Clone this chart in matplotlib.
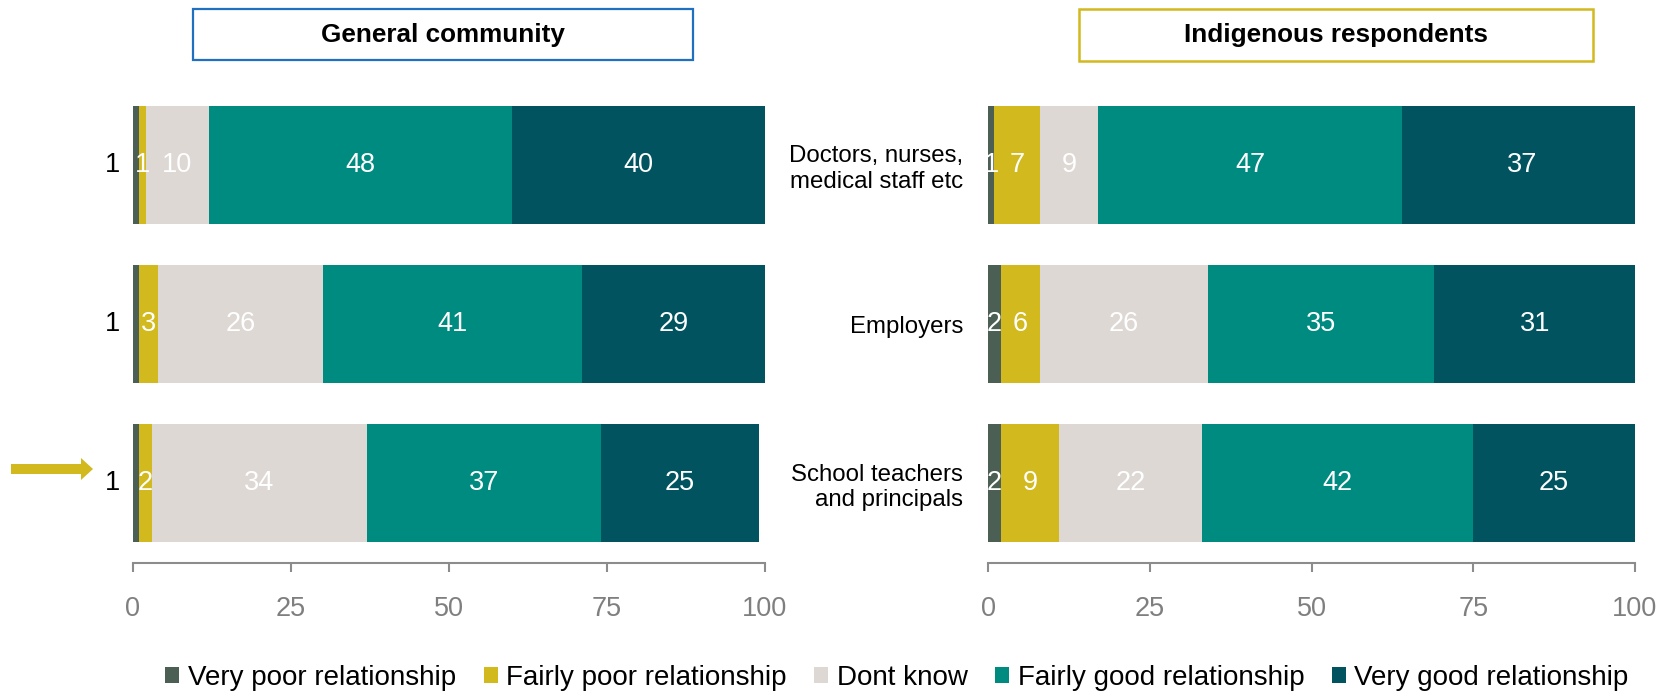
import matplotlib
matplotlib.use("Agg")
import matplotlib.pyplot as plt
from matplotlib.patches import Rectangle, FancyArrow

plt.rcParams['font.family'] = ['Liberation Sans', 'DejaVu Sans']

# ---- data -------------------------------------------------------------
categories = ["Doctors, nurses,\nmedical staff etc", "Employers",
              "School teachers\nand principals"]
series = ["Very poor relationship", "Fairly poor relationship", "Dont know",
          "Fairly good relationship", "Very good relationship"]
colors = ["#4B5F55", "#D2B91E", "#DDD8D4", "#008B80", "#00535F"]

general_very_poor = [1, 1, 1]
general_fairly_poor = [1, 3, 2]
general_dont_know = [10, 26, 34]
general_fairly_good = [48, 41, 37]
general_very_good = [40, 29, 25]

indig_very_poor = [1, 2, 2]
indig_fairly_poor = [7, 6, 9]
indig_dont_know = [9, 26, 22]
indig_fairly_good = [47, 35, 42]
indig_very_good = [37, 31, 25]

x_ticks = [0, 25, 50, 75, 100]

general = [general_very_poor, general_fairly_poor, general_dont_know,
           general_fairly_good, general_very_good]
indigenous = [indig_very_poor, indig_fairly_poor, indig_dont_know,
              indig_fairly_good, indig_very_good]

# ---- figure -----------------------------------------------------------
W, H = 1670, 691
fig = plt.figure(figsize=(W / 100, H / 100), dpi=100)

ax_bottom = 1 - 563 / H
ax_height = 478 / H
ax_left = fig.add_axes([133 / W, ax_bottom, 632 / W, ax_height])
ax_right = fig.add_axes([988 / W, ax_bottom, 647 / W, ax_height])

AXIS_GREY = "#8C8C8C"
BAR_H = 0.742
VAL_FS = 19.5


def draw_panel(ax, data, outside_first):
    ypos = list(range(len(categories)))
    lefts = [0] * len(categories)
    for si, vals in enumerate(data):
        ax.barh(ypos, vals, left=lefts, height=BAR_H, color=colors[si],
                linewidth=0)
        for yi, v in enumerate(vals):
            if si == 0 and outside_first:
                ax.annotate(str(v), xy=(0, yi), xytext=(-13, 0),
                            textcoords="offset pixels", ha="right",
                            va="center", fontsize=VAL_FS, color="black")
            else:
                ax.text(lefts[yi] + v / 2, yi, str(v), ha="center",
                        va="center", fontsize=VAL_FS, color="white",
                        clip_on=False)
        lefts = [l + v for l, v in zip(lefts, vals)]

    ax.set_xlim(0, 100)
    ax.set_ylim(2.5, -0.5)
    ax.set_xticks(x_ticks)
    ax.set_xticklabels([str(t) for t in x_ticks])
    for s in ("top", "right", "left"):
        ax.spines[s].set_visible(False)
    ax.spines["bottom"].set_color(AXIS_GREY)
    ax.spines["bottom"].set_linewidth(1.5)
    ax.tick_params(axis="x", direction="out", length=6.5, width=1.5,
                   color=AXIS_GREY, labelcolor="#7F7F7F", labelsize=19.5,
                   pad=17)
    ax.set_facecolor("none")


draw_panel(ax_left, general, outside_first=True)
draw_panel(ax_right, indigenous, outside_first=False)

ax_left.set_yticks([])
ax_right.set_yticks(range(len(categories)))
ax_right.set_yticklabels(categories, fontsize=17.3, linespacing=1.2)
ax_right.tick_params(axis="y", length=0, pad=18)

# ---- overlay: panel headers and pointer arrow -------------------------
ov = fig.add_axes([0, 0, 1, 1], zorder=5)
ov.set_xlim(0, W)
ov.set_ylim(H, 0)
ov.axis("off")
ov.patch.set_alpha(0)

ov.add_patch(Rectangle((193, 9), 500, 51, fill=False, edgecolor="#1F70C1",
                       linewidth=1.6))
ov.text(443, 35, "General community", ha="center", va="center",
        fontsize=18.8, fontweight="bold", color="black")
ov.add_patch(Rectangle((1079, 9), 514, 52, fill=False, edgecolor="#D2B91E",
                       linewidth=1.8))
ov.text(1336, 35, "Indigenous respondents", ha="center", va="center",
        fontsize=18.8, fontweight="bold", color="black")

ov.add_patch(FancyArrow(11, 469, 82, 0, width=10, head_width=22,
                        head_length=12, length_includes_head=True,
                        color="#D2B91E", linewidth=0))

# ---- legend -----------------------------------------------------------
LEG_FS = 20
sq = 14 / (LEG_FS * 100 / 72)
handles = [Rectangle((0, 0), 1, 1, facecolor=c, edgecolor="none")
           for c in colors]
fig.legend(handles, series, loc="center", bbox_to_anchor=(897 / W, 1 - 678 / H),
           ncol=5, frameon=False, fontsize=LEG_FS, handlelength=sq,
           handleheight=sq, handletextpad=0.3, columnspacing=1.0,
           borderpad=0, borderaxespad=0)

fig.savefig("out.png", dpi=100)
